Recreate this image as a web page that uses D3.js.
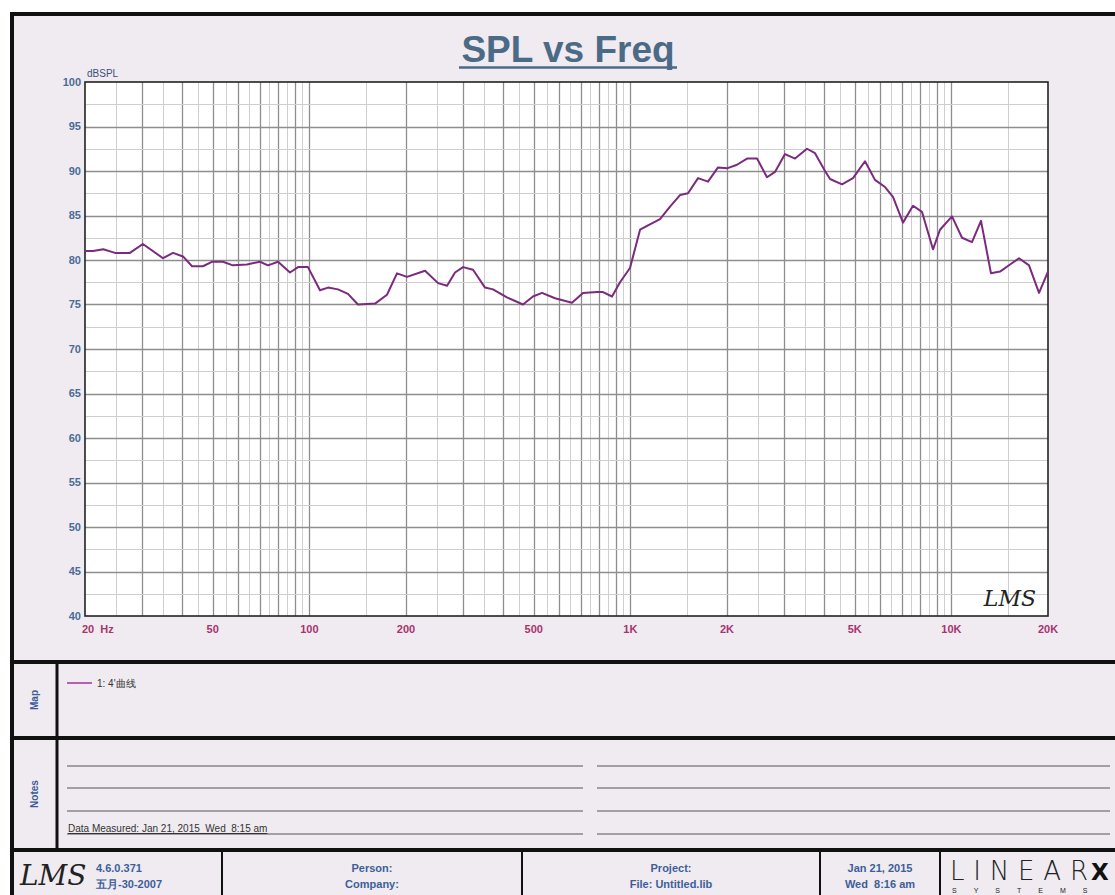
<!DOCTYPE html>
<html>
<head>
<meta charset="utf-8">
<script src="https://cdn.jsdelivr.net/npm/d3@7"></script>
<style>
  html, body { margin: 0; padding: 0; background: #fff; }
  svg { display: block; font-family: "Liberation Sans", Arial, sans-serif; }
</style>
</head>
<body>
<svg id="chart"></svg>
<script>
const width = 1115;
const height = 895;

const freqs = [20, 21.2, 22.8, 24.8, 27.6, 30.3, 35.0, 37.6, 40.4, 43.1, 46.6, 49.7, 53.8, 57.8,
  63.9, 70.2, 74.3, 79.9, 87.0, 92.2, 99.0, 107.9, 114.3, 122.8, 131.9, 141.7, 160.2, 174.5,
  187.5, 201.4, 229.3, 251.7, 268.5, 284.3, 301.1, 323.5, 352.5, 373.3, 412.6, 462.9, 497.2,
  530.6, 582.4, 657.8, 711.9, 787.2, 821.9, 876.7, 928.4, 997.2, 1072, 1135, 1237, 1329, 1428,
  1512, 1625, 1745, 1875, 2000, 2149, 2309, 2481, 2665, 2822, 3032, 3258, 3551, 3760, 4040,
  4188, 4564, 4938, 5382, 5782, 6213, 6578, 7068, 7594, 8102, 8765, 9217, 10046, 10793, 11594,
  12368, 13287, 14176, 15232, 16246, 17454, 18752, 20000];
const spl = [81.0, 81.0, 81.2, 80.8, 80.8, 81.8, 80.2, 80.8, 80.4, 79.3, 79.3, 79.8, 79.8, 79.4,
  79.5, 79.8, 79.4, 79.8, 78.6, 79.2, 79.2, 76.6, 76.9, 76.7, 76.2, 75.0, 75.1, 76.1,
  78.5, 78.1, 78.8, 77.4, 77.1, 78.6, 79.2, 78.9, 76.9, 76.7, 75.8, 75.0, 75.9,
  76.3, 75.7, 75.2, 76.3, 76.4, 76.4, 75.9, 77.5, 79.1, 83.4, 83.9, 84.6, 86.0, 87.3,
  87.5, 89.2, 88.8, 90.4, 90.3, 90.7, 91.4, 91.4, 89.3, 89.9, 91.9, 91.4, 92.5, 92.0, 90.0,
  89.1, 88.5, 89.2, 91.1, 89.0, 88.2, 87.1, 84.2, 86.1, 85.4, 81.2, 83.4, 84.9, 82.5, 82.0,
  84.4, 78.5, 78.7, 79.5, 80.2, 79.4, 76.3, 78.7];

const xTicks = [20, 50, 100, 200, 500, 1000, 2000, 5000, 10000, 20000];
const xTickLabels = ["20  Hz", "50", "100", "200", "500", "1K", "2K", "5K", "10K", "20K"];
const yTicks = d3.range(40, 101, 5);

const legendLabel = "1: 4'曲线";
const measured = "Data Measured: Jan 21, 2015  Wed  8:15 am";
const footer = {
  version: ["4.6.0.371", "五月-30-2007"],
  person: ["Person:", "Company:"],
  project: ["Project:", "File: Untitled.lib"],
  stamp: ["Jan 21, 2015", "Wed  8:16 am"]
};

const plot = {left: 85, right: 1048, top: 82, bottom: 616};
const curveColor = "#7b2a7d";

const svg = d3.select("#chart")
    .attr("width", width)
    .attr("height", height)
    .attr("viewBox", [0, 0, width, height]);

// sheet background + outer frame
svg.append("rect")
    .attr("x", 12).attr("y", 14)
    .attr("width", width).attr("height", height)
    .attr("fill", "#efebf0")
    .attr("stroke", "#111").attr("stroke-width", 4);

const x = d3.scaleLog([20, 20000], [plot.left, plot.right]);
const y = d3.scaleLinear([40, 100], [plot.bottom, plot.top]);

// title
svg.append("text")
    .attr("x", 568).attr("y", 62)
    .attr("text-anchor", "middle")
    .attr("font-size", 37).attr("font-weight", "bold")
    .attr("fill", "#4b6a86")
    .text("SPL vs Freq");
svg.append("line")
    .attr("x1", 459).attr("x2", 677)
    .attr("y1", 67.5).attr("y2", 67.5)
    .attr("stroke", "#4b6a86").attr("stroke-width", 2.5);

svg.append("rect")
    .attr("x", plot.left).attr("y", plot.top)
    .attr("width", plot.right - plot.left).attr("height", plot.bottom - plot.top)
    .attr("fill", "#fff");

// grid: whole steps darker, half steps lighter
const vGrid = [];
for (const d of [10, 100, 1000, 10000]) {
  for (let k = 1; k < 10; k += 0.5) {
    const f = d * k;
    if (f > 20 && f < 20000) vGrid.push({f, major: Number.isInteger(k)});
  }
}
const hGrid = d3.range(42.5, 100, 2.5).map(v => ({v, major: v % 5 === 0}));

const grid = svg.append("g");
grid.selectAll(".vg")
  .data(vGrid)
  .join("line")
    .attr("x1", d => Math.round(x(d.f)) + 0.5).attr("x2", d => Math.round(x(d.f)) + 0.5)
    .attr("y1", plot.top).attr("y2", plot.bottom)
    .attr("stroke", d => d.major ? "#8e8e8e" : "#cfcfcf")
    .attr("stroke-width", d => d.major ? 1.3 : 1);
grid.selectAll(".hg")
  .data(hGrid)
  .join("line")
    .attr("x1", plot.left).attr("x2", plot.right)
    .attr("y1", d => Math.round(y(d.v)) + 0.5).attr("y2", d => Math.round(y(d.v)) + 0.5)
    .attr("stroke", d => d.major ? "#8e8e8e" : "#cfcfcf")
    .attr("stroke-width", d => d.major ? 1.3 : 1);

svg.append("rect")
    .attr("x", plot.left).attr("y", plot.top)
    .attr("width", plot.right - plot.left).attr("height", plot.bottom - plot.top)
    .attr("fill", "none").attr("stroke", "#222").attr("stroke-width", 1.6);

// axes labels
svg.append("g")
    .attr("font-size", 11).attr("font-weight", "bold").attr("fill", "#4a6b96")
    .attr("text-anchor", "end")
  .selectAll("text")
  .data(yTicks)
  .join("text")
    .attr("x", plot.left - 4)
    .attr("y", d => y(d))
    .attr("dy", "0.35em")
    .text(d => d);

svg.append("text")
    .attr("x", plot.left + 2).attr("y", plot.top - 5)
    .attr("font-size", 10).attr("fill", "#3e4e7a")
    .text("dBSPL");

svg.append("g")
    .attr("font-size", 11).attr("font-weight", "bold").attr("fill", "#a9336f")
  .selectAll("text")
  .data(xTicks)
  .join("text")
    .attr("x", (d, i) => i === 0 ? plot.left - 3 : x(d))
    .attr("y", plot.bottom + 17)
    .attr("text-anchor", (d, i) => i === 0 ? "start" : "middle")
    .attr("xml:space", "preserve")
    .text((d, i) => xTickLabels[i]);

// response curve
const line = d3.line()
    .x((d, i) => x(freqs[i]))
    .y(d => y(d));
svg.append("path")
    .attr("fill", "none")
    .attr("stroke", curveColor)
    .attr("stroke-width", 2)
    .attr("stroke-linejoin", "round")
    .attr("d", line(spl));

// LMS mark inside plot
svg.append("text")
    .attr("x", 1036).attr("y", 606)
    .attr("text-anchor", "end")
    .attr("font-family", "DejaVu Serif").attr("font-style", "italic")
    .attr("font-size", 22).attr("fill", "#222")
    .text("LMS");

// panels below chart
const rule = (x1, y1, x2, y2, w) => svg.append("line")
    .attr("x1", x1).attr("y1", y1).attr("x2", x2).attr("y2", y2)
    .attr("stroke", "#111").attr("stroke-width", w);

rule(12, 662, width, 662, 4);
rule(12, 738, width, 738, 4);
rule(12, 850, width, 850, 4);
rule(57, 662, 57, 850, 3);
for (const xv of [222, 522, 820, 940]) rule(xv, 850, xv, height, 2);

const sideLabel = (txt, cx, cy) => svg.append("text")
    .attr("transform", `translate(${cx},${cy}) rotate(-90)`)
    .attr("text-anchor", "middle")
    .attr("font-size", 10).attr("font-weight", "bold").attr("fill", "#3c5c96")
    .text(txt);
sideLabel("Map", 38, 700);
sideLabel("Notes", 38, 794);

// legend
svg.append("line")
    .attr("x1", 67).attr("x2", 92).attr("y1", 683).attr("y2", 683)
    .attr("stroke", "#b55fb5").attr("stroke-width", 2);
svg.append("text")
    .attr("x", 97).attr("y", 687)
    .attr("font-size", 10).attr("fill", "#333")
    .text(legendLabel);

// notes lines
const noteY = [766, 788, 811, 834];
const notes = svg.append("g").attr("stroke", "#555").attr("stroke-width", 1);
for (const ny of noteY) {
  notes.append("line").attr("x1", 67).attr("x2", 583).attr("y1", ny).attr("y2", ny);
  notes.append("line").attr("x1", 597).attr("x2", 1110).attr("y1", ny).attr("y2", ny);
}
svg.append("text")
    .attr("x", 68).attr("y", 832)
    .attr("font-size", 10).attr("fill", "#333")
    .attr("text-decoration", "underline")
    .attr("xml:space", "preserve")
    .text(measured);

// footer
svg.append("text")
    .attr("x", 20).attr("y", 885)
    .attr("font-family", "DejaVu Serif").attr("font-style", "italic")
    .attr("font-size", 28).attr("fill", "#222")
    .text("LMS");

const twoLine = (lines, xv, anchor) => {
  const g = svg.append("g")
      .attr("font-size", 11).attr("font-weight", "bold").attr("fill", "#3d5e98")
      .attr("text-anchor", anchor);
  lines.forEach((t, i) => g.append("text")
      .attr("x", xv).attr("y", 872 + i * 16)
      .attr("xml:space", "preserve")
      .text(t));
};
twoLine(footer.version, 96, "start");
twoLine(footer.person, 372, "middle");
twoLine(footer.project, 671, "middle");
twoLine(footer.stamp, 880, "middle");

svg.append("text")
    .attr("x", 950).attr("y", 880)
    .attr("font-family", "DejaVu Sans").attr("font-weight", 300)
    .attr("font-size", 26).attr("fill", "#222")
    .attr("textLength", 138).attr("lengthAdjust", "spacing")
    .text("LINEAR");
svg.append("text")
    .attr("x", 1091).attr("y", 880)
    .attr("font-family", "DejaVu Sans").attr("font-weight", "bold")
    .attr("font-size", 23).attr("fill", "#111")
    .text("X");
svg.append("text")
    .attr("x", 952).attr("y", 893)
    .attr("font-size", 7).attr("fill", "#222")
    .attr("letter-spacing", 17)
    .text("SYSTEMS");
</script>
</body>
</html>
